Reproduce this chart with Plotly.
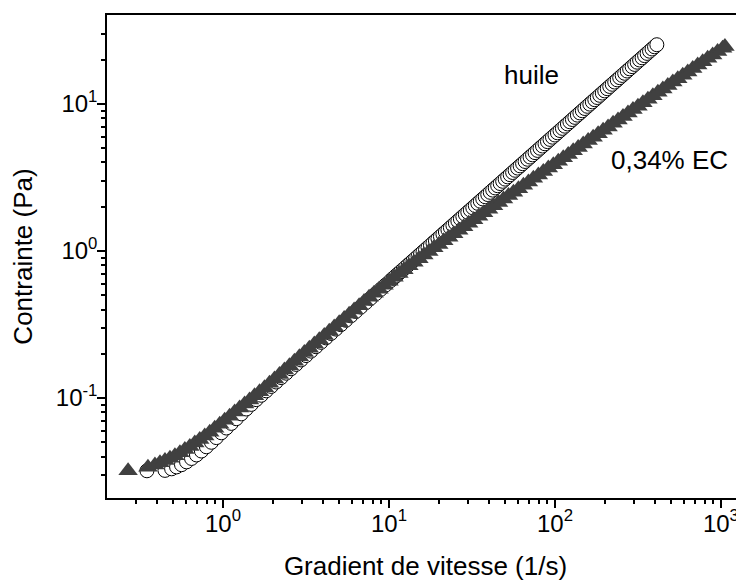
import plotly.graph_objects as go

# huile (open circles)
huile_rate = [0.348, 0.447, 0.490, 0.525, 0.562, 0.603, 0.646, 0.692, 0.741, 0.794,
              0.851, 0.912, 0.977, 1.047, 1.122, 1.202, 1.288, 1.380, 1.479, 1.585,
              1.698, 1.820, 1.950, 2.089, 2.239, 2.399, 2.570, 2.754, 2.951, 3.162,
              3.388, 3.631, 3.890, 4.169, 4.467, 4.786, 5.129, 5.495, 5.888, 6.310,
              6.761, 7.244, 7.762, 8.318, 8.913, 9.550,
              10.23, 10.59, 10.96, 11.35, 11.75, 12.16, 12.59, 13.03, 13.49, 13.96,
              14.45, 14.96, 15.49, 16.03, 16.60, 17.18, 17.78, 18.41, 19.05, 19.72,
              20.42, 21.14, 21.88, 22.65, 23.44, 24.27, 25.12, 26.00, 26.92, 27.86,
              28.84, 29.85, 30.90, 31.99, 33.11, 34.28, 35.48, 36.73, 38.02, 39.36,
              40.74, 42.17, 43.65, 45.19, 46.77, 48.42, 50.12, 51.88, 53.70, 55.59,
              57.54, 59.57, 61.66, 63.83, 66.07, 68.39, 70.79, 73.28, 75.86, 78.52,
              81.28, 84.14, 87.10, 90.16, 93.33, 96.61, 100.0, 103.5, 107.2, 110.9,
              114.8, 118.9, 123.0, 127.4, 131.8, 136.5, 141.3, 146.2, 151.4, 156.7,
              162.2, 167.9, 173.8, 179.9, 186.2, 192.8, 199.5, 206.5, 213.8, 221.3,
              229.1, 237.1, 245.5, 254.1, 263.0, 272.3, 281.8, 291.7, 302.0, 312.6,
              323.6, 335.0, 346.7, 358.9, 371.5, 384.6, 398.1, 411.0]
huile_stress = [0.0320, 0.0322, 0.0330, 0.0340, 0.0352, 0.0368, 0.0388, 0.0410, 0.0436, 0.0466,
                0.0500, 0.0538, 0.0580, 0.0625, 0.0672, 0.0723, 0.0780, 0.0842, 0.0905, 0.0975,
                0.1044, 0.1119, 0.1199, 0.1285, 0.1377, 0.1475, 0.1581, 0.1694, 0.1815, 0.1945,
                0.2084, 0.2233, 0.2392, 0.2564, 0.2747, 0.2943, 0.3154, 0.3379, 0.3621, 0.3881,
                0.4158, 0.4455, 0.4774, 0.5116, 0.5481, 0.5873,
                0.6291, 0.6515, 0.6740, 0.6980, 0.7226, 0.7480, 0.7743, 0.8015, 0.8296, 0.8588,
                0.8887, 0.9202, 0.9526, 0.9860, 1.021, 1.057, 1.093, 1.132, 1.172, 1.213,
                1.256, 1.300, 1.346, 1.393, 1.442, 1.492, 1.545, 1.599, 1.656, 1.714,
                1.774, 1.836, 1.900, 1.967, 2.036, 2.108, 2.182, 2.259, 2.338, 2.420,
                2.506, 2.594, 2.684, 2.779, 2.876, 2.978, 3.082, 3.191, 3.303, 3.419,
                3.539, 3.663, 3.792, 3.925, 4.063, 4.206, 4.354, 4.507, 4.665, 4.829,
                4.999, 5.175, 5.357, 5.545, 5.740, 5.941, 6.150, 6.365, 6.593, 6.820,
                7.060, 7.312, 7.565, 7.835, 8.106, 8.395, 8.690, 8.991, 9.311, 9.637,
                9.975, 10.33, 10.69, 11.06, 11.45, 11.86, 12.27, 12.70, 13.15, 13.61,
                14.09, 14.58, 15.10, 15.63, 16.17, 16.75, 17.33, 17.94, 18.57, 19.23,
                19.90, 20.60, 21.32, 22.07, 22.85, 23.65, 24.48, 25.28]

# 0,34% EC (filled triangles)
ec_rate = [0.268, 0.353, 0.389, 0.417, 0.447, 0.479, 0.513, 0.550, 0.589, 0.631,
           0.676, 0.724, 0.776, 0.832, 0.891, 0.955, 1.023, 1.096, 1.175, 1.259,
           1.349, 1.445, 1.549, 1.660, 1.778, 1.905, 2.042, 2.188, 2.344, 2.512,
           2.692, 2.884, 3.090, 3.311, 3.548, 3.802, 4.074, 4.365, 4.677, 5.012,
           5.370, 5.754, 6.166, 6.607, 7.079, 7.586, 8.128, 8.710, 9.333, 10.00,
           10.72, 11.48, 12.30, 13.18, 14.13, 15.14, 16.22, 17.38, 18.62, 19.95,
           21.38, 22.91, 24.55, 26.30, 28.18, 30.20, 32.36, 34.67, 37.15, 39.81,
           42.66, 45.71, 48.98, 52.48, 56.23, 60.26, 64.57, 69.18, 74.13, 79.43,
           85.11, 91.20, 97.72, 104.7, 112.2, 120.2, 128.8, 138.0, 147.9, 158.5,
           169.8, 182.0, 195.0, 208.9, 223.9, 239.9, 257.0, 275.4, 295.1, 316.2,
           338.8, 363.1, 389.0, 416.9, 446.7, 478.6, 512.9, 549.5, 588.8, 631.0,
           676.1, 724.4, 776.2, 831.8, 891.3, 955.0, 1023.0, 1057.0]
ec_stress = [0.0320, 0.0338, 0.0350, 0.0363, 0.0376, 0.0389, 0.0405, 0.0425, 0.0446, 0.0468,
             0.0494, 0.0522, 0.0552, 0.0586, 0.0624, 0.0664, 0.0706, 0.0753, 0.0802, 0.0855,
             0.0912, 0.0971, 0.1035, 0.1102, 0.1175, 0.1259, 0.1349, 0.1445, 0.1549, 0.1660,
             0.1778, 0.1905, 0.2042, 0.2183, 0.2333, 0.2495, 0.2667, 0.2844, 0.3041, 0.3251,
             0.3475, 0.3715, 0.3963, 0.4236, 0.4529, 0.4842, 0.5152, 0.5495, 0.5848, 0.6237,
             0.6622, 0.7031, 0.7464, 0.7925, 0.8380, 0.8872, 0.9376, 0.9931, 1.050, 1.109,
             1.172, 1.239, 1.309, 1.384, 1.462, 1.545, 1.632, 1.722, 1.820, 1.919,
             2.028, 2.138, 2.254, 2.382, 2.512, 2.649, 2.799, 2.951, 3.119, 3.289,
             3.467, 3.664, 3.864, 4.083, 4.305, 4.539, 4.797, 5.058, 5.346, 5.636,
             5.943, 6.281, 6.622, 6.982, 7.379, 7.780, 8.222, 8.670, 9.162, 9.661,
             10.19, 10.76, 11.35, 11.99, 12.65, 13.34, 14.09, 14.86, 15.67, 16.52,
             17.42, 18.37, 19.36, 20.42, 21.53, 22.70, 23.93, 24.55]

# axis ticks
x_major = [1, 10, 100, 1000]
x_major_text = ["10<sup>0</sup>", "10<sup>1</sup>", "10<sup>2</sup>", "10<sup>3</sup>"]
x_minor = [0.3, 0.4, 0.5, 0.6, 0.7, 0.8, 0.9,
           2, 3, 4, 5, 6, 7, 8, 9,
           20, 30, 40, 50, 60, 70, 80, 90,
           200, 300, 400, 500, 600, 700, 800, 900]
y_major = [0.1, 1, 10]
y_major_text = ["10<sup>-1</sup>", "10<sup>0</sup>", "10<sup>1</sup>"]
y_minor = [0.03, 0.04, 0.05, 0.06, 0.07, 0.08, 0.09,
           0.2, 0.3, 0.4, 0.5, 0.6, 0.7, 0.8, 0.9,
           2, 3, 4, 5, 6, 7, 8, 9, 20, 30]

font = "Liberation Sans, Arial, sans-serif"

fig = go.Figure()
fig.add_trace(go.Scatter(
    x=huile_rate, y=huile_stress, mode="markers", name="huile",
    marker=dict(symbol="circle", size=14, color="white",
                line=dict(color="black", width=1)),
))
fig.add_trace(go.Scatter(
    x=ec_rate, y=ec_stress, mode="markers", name="0,34% EC",
    marker=dict(symbol="triangle-up", size=17, color="#404040",
                line=dict(width=0)),
))

axis_common = dict(
    type="log", tickmode="array",
    showgrid=False, zeroline=False,
    showline=True, linecolor="black", linewidth=1.5,
    ticks="outside", ticklen=8, tickwidth=1.5, tickcolor="black",
    tickfont=dict(family=font, size=24, color="black"),
    ticklabelstandoff=-5,
    automargin=False,
)

fig.update_xaxes(
    axis_common, range=[-0.699, 3.139], mirror=True,
    tickvals=x_major, ticktext=x_major_text,
    minor=dict(tickmode="array", tickvals=x_minor, ticks="outside", ticklen=4,
               tickwidth=1.5, tickcolor="black", showgrid=False),
    title=dict(text="Gradient de vitesse (1/s)", standoff=21,
               font=dict(family=font, size=26, color="black")),
)
fig.update_yaxes(
    axis_common, range=[-1.68, 1.605], mirror=False,
    tickvals=y_major, ticktext=y_major_text,
    minor=dict(tickmode="array", tickvals=y_minor, ticks="outside", ticklen=4,
               tickwidth=1.5, tickcolor="black", showgrid=False),
    title=dict(text="Contrainte (Pa)", standoff=22,
               font=dict(family=font, size=26, color="black")),
)

fig.add_annotation(x=1.861, y=1.197, text="huile", showarrow=False,
                   font=dict(family=font, size=26, color="black"))
fig.add_annotation(x=2.693, y=0.619, text="0,34% EC", showarrow=False,
                   font=dict(family=font, size=26, color="black"))

# page body has an 8px margin, so the figure is 8px smaller than the window
fig.update_layout(
    width=736, height=575,
    margin=dict(l=99, r=0, t=7, b=85),
    showlegend=False,
    plot_bgcolor="white", paper_bgcolor="white",
)

fig.write_html("out.html")
